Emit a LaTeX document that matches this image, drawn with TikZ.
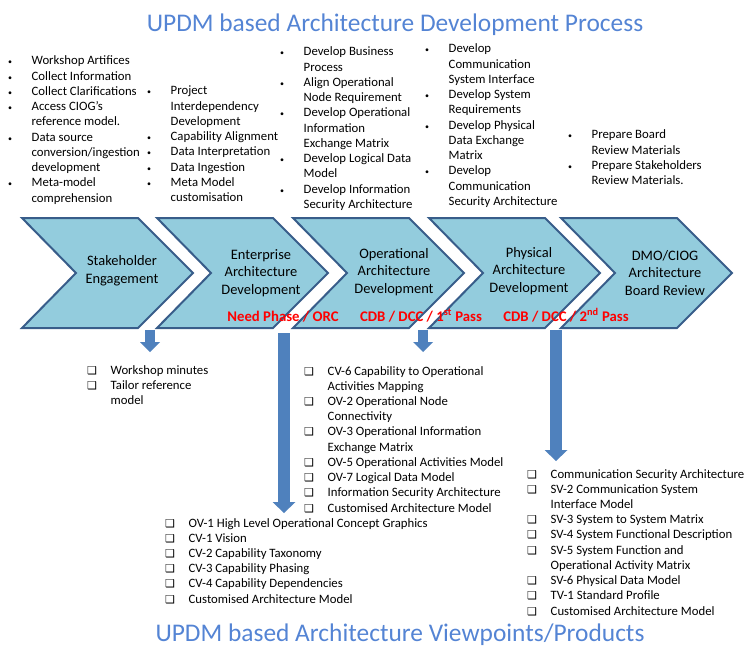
\documentclass[tikz,border=0pt]{standalone}
\usepackage{fontspec}
\setmainfont{Carlito}
\newfontfamily\boxfont{DejaVu Sans}
\usetikzlibrary{arrows.meta}
\definecolor{chevfill}{RGB}{147,204,221}
\definecolor{chevline}{RGB}{56,93,138}
\definecolor{arrowblue}{RGB}{79,129,189}
\definecolor{titleblue}{RGB}{84,132,212}
\definecolor{passred}{RGB}{255,0,0}
\newcommand{\bul}{{\fontsize{8}{8}\selectfont\textbullet}}
\newcommand{\chk}{{\boxfont\fontsize{11}{11}\selectfont ❑}}
\newcommand{\steplist}[1]{\begin{tabular}[t]{@{}p{23.5bp}@{}l@{}}#1\end{tabular}}
\tikzset{
	chevtext/.style={align=center, inner sep=0pt, font=\fontsize{14.5}{17.7}\selectfont},
	passtext/.style={anchor=base, inner sep=0pt, text=passred, font=\bfseries\fontsize{14.8}{16}\selectfont},
	listtext/.style={anchor=base west, inner sep=0pt, font=\fontsize{12.8}{15.3}\selectfont},
	titletext/.style={anchor=base, inner sep=0pt, text=titleblue, font=\fontsize{25.5}{28}\selectfont},
	smallarrow/.style={arrowblue, line width=10bp, -{Triangle[length=10bp, width=20bp, line width=0pt]}},
	bigarrow/.style={arrowblue, line width=12bp, -{Triangle[length=11bp, width=23bp, line width=0pt]}},
}
\begin{document}
\begin{tikzpicture}[
	x=1bp,
	y=-1bp,
	line join=miter,
	]
\useasboundingbox (0,0) rectangle (755,663);
\node[titletext] (toptitle) at (395,32) {UPDM based Architecture Development Process};
\node[titletext] (bottitle) at (400,641) {UPDM based Architecture Viewpoints/Products};
% the five phases
\foreach \l in {22, 157, 293, 429, 561}
	\draw[chevline, fill=chevfill, line width=2bp]
		(\l,218) -- ++(116,0) -- ++(55,55) -- ++(-55,55) -- ++(-116,0) -- ++(54,-55) -- cycle;
\node[chevtext] (stake) at (122,271) {Stakeholder\\Engagement};
\node[chevtext] (enter) at (261,273) {Enterprise\\Architecture\\Development};
\node[chevtext] (oper) at (394,272) {Operational\\Architecture\\Development};
\node[chevtext] (phys) at (529,271) {Physical\\Architecture\\Development};
\node[chevtext] (board) at (665,273) {DMO/CIOG\\Architecture\\Board Review};
\node[passtext] (need) at (283,321) {Need Phase / ORC};
\node[passtext] (pass1) at (421,321) {CDB / DCC / 1\textsuperscript{st} Pass};
\node[passtext] (pass2) at (566,321) {CDB / DCC / 2\textsuperscript{nd} Pass};
% activities
\node[listtext] (actstake) at (8,65) {\steplist{
	\bul & Workshop Artifices\\
	\bul & Collect Information\\
	\bul & Collect Clarifications\\
	\bul & Access CIOG’s\\
	& reference model.\\
	\bul & Data source\\
	& conversion/ingestion\\
	& development\\
	\bul & Meta-model\\
	& comprehension}};
\node[listtext] (actenter) at (147,95) {\steplist{
	\bul & Project\\
	& Interdependency\\
	& Development\\
	\bul & Capability Alignment\\
	\bul & Data Interpretation\\
	\bul & Data Ingestion\\
	\bul & Meta Model\\
	& customisation}};
\node[listtext] (actoper) at (280,56) {\steplist{
	\bul & Develop Business\\
	& Process\\
	\bul & Align Operational\\
	& Node Requirement\\
	\bul & Develop Operational\\
	& Information\\
	& Exchange Matrix\\
	\bul & Develop Logical Data\\
	& Model\\
	\bul & Develop Information\\
	& Security Architecture}};
\node[listtext] (actphys) at (425,53) {\steplist{
	\bul & Develop\\
	& Communication\\
	& System Interface\\
	\bul & Develop System\\
	& Requirements\\
	\bul & Develop Physical\\
	& Data Exchange\\
	& Matrix\\
	\bul & Develop\\
	& Communication\\
	& Security Architecture}};
\node[listtext] (actboard) at (568,139) {\steplist{
	\bul & Prepare Board\\
	& Review Materials\\
	\bul & Prepare Stakeholders\\
	& Review Materials.}};
% products
\coordinate (stakeout) at (150,330);
\coordinate (stakein) at (150,352);
\coordinate (enterout) at (284,333);
\coordinate (enterin) at (284,513);
\coordinate (operout) at (423,330);
\coordinate (operin) at (423,352);
\coordinate (physout) at (556,330);
\coordinate (physin) at (556,461);
\draw[smallarrow] (stakeout) -- (stakein);
\draw[bigarrow] (enterout) -- (enterin);
\draw[smallarrow] (operout) -- (operin);
\draw[bigarrow] (physout) -- (physin);
\node[listtext] (prodstake) at (87,374) {\steplist{
	\chk & Workshop minutes\\
	\chk & Tailor reference\\
	& model}};
\node[listtext] (prodoper) at (304,375) {\steplist{
	\chk & CV-6 Capability to Operational\\
	& Activities Mapping\\
	\chk & OV-2 Operational Node\\
	& Connectivity\\
	\chk & OV-3 Operational Information\\
	& Exchange Matrix\\
	\chk & OV-5 Operational Activities Model\\
	\chk & OV-7 Logical Data Model\\
	\chk & Information Security Architecture\\
	\chk & Customised Architecture Model}};
\node[listtext] (prodenter) at (165,527) {\steplist{
	\chk & OV-1 High Level Operational Concept Graphics\\
	\chk & CV-1 Vision\\
	\chk & CV-2 Capability Taxonomy\\
	\chk & CV-3 Capability Phasing\\
	\chk & CV-4 Capability Dependencies\\
	\chk & Customised Architecture Model}};
\node[listtext] (prodphys) at (527,478) {\steplist{
	\chk & Communication Security Architecture\\
	\chk & SV-2 Communication System\\
	& Interface Model\\
	\chk & SV-3 System to System Matrix\\
	\chk & SV-4 System Functional Description\\
	\chk & SV-5 System Function and\\
	& Operational Activity Matrix\\
	\chk & SV-6 Physical Data Model\\
	\chk & TV-1 Standard Profile\\
	\chk & Customised Architecture Model}};
\end{tikzpicture}
\end{document}
